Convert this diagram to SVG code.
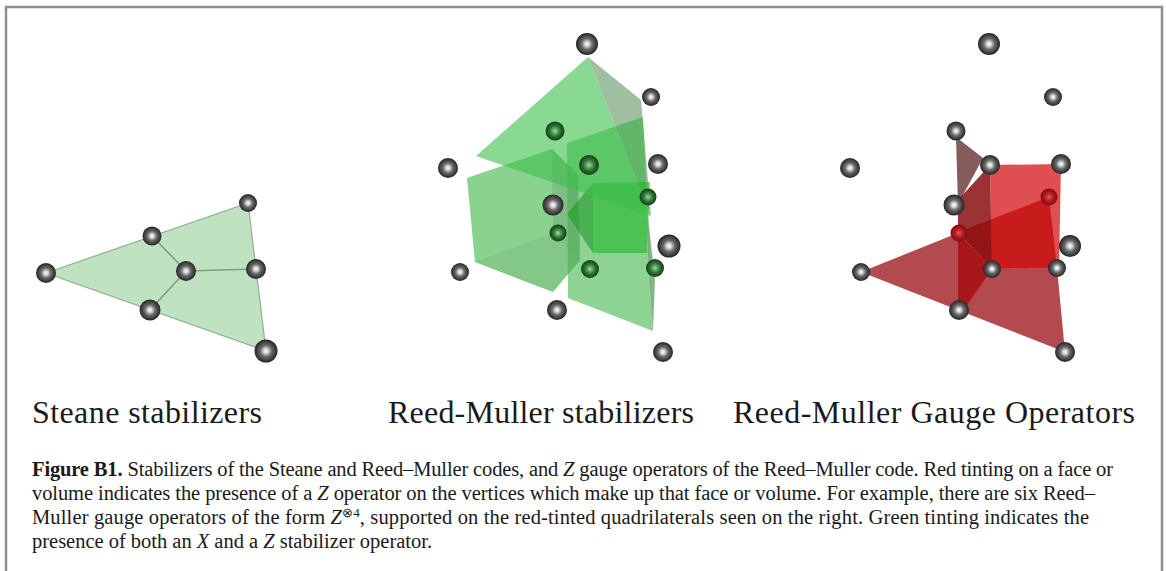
<svg xmlns="http://www.w3.org/2000/svg" width="1166" height="571" viewBox="0 0 1166 571">
<style>
.s{fill:url(#ball)}
.g{fill:url(#ballg)}
.r{fill:url(#ballr)}
.lab{font-family:"Liberation Serif","Times New Roman",serif;font-size:32px;fill:#1a1a1a}
.cap{font-family:"Liberation Serif","Times New Roman",serif;font-size:20.500px;fill:#1a1a1a}
.i{font-style:italic}
.edge{stroke:#7f9f80;stroke-width:1.6;fill:none}
</style>
<defs>
<radialGradient id="ball" cx="0.5" cy="0.5" r="0.5">
<stop offset="0" stop-color="#ffffff"/>
<stop offset="0.2" stop-color="#d8d8d8"/>
<stop offset="0.5" stop-color="#6a6a6a"/>
<stop offset="0.8" stop-color="#404040"/>
<stop offset="1" stop-color="#222222"/>
</radialGradient>
<radialGradient id="ballg" cx="0.5" cy="0.5" r="0.5">
<stop offset="0" stop-color="#a8dcac"/>
<stop offset="0.25" stop-color="#5fae66"/>
<stop offset="0.6" stop-color="#2a6c30"/>
<stop offset="1" stop-color="#143f18"/>
</radialGradient>
<radialGradient id="ballr" cx="0.5" cy="0.5" r="0.5">
<stop offset="0" stop-color="#e05a5a"/>
<stop offset="0.5" stop-color="#b81a1c"/>
<stop offset="1" stop-color="#7c0d0f"/>
</radialGradient>
</defs>
<rect width="1166" height="571" fill="#ffffff"/>
<path d="M6 571V7H1162V571" fill="none" stroke="#8f8f8f" stroke-width="2.500"/>

<g id="steane-face"><polygon points="46,273 248,203 266,351" fill="#bfe2c1" stroke="#8fb091" stroke-width="1.2"/></g>
<g id="connectors">
<path class="edge" d="M152,236L186,271L256,269M186,271L150,310"/>
</g>
<g id="steane-nodes">
<g id="a1"><circle class="s" cx="46" cy="273" r="10"/></g>
<g id="a2"><circle class="s" cx="152" cy="236" r="9.500"/></g>
<g id="a3"><circle class="s" cx="186" cy="271" r="10"/></g>
<g id="a4"><circle class="s" cx="256" cy="269" r="10"/></g>
<g id="a5"><circle class="s" cx="248" cy="203" r="9"/></g>
<g id="a6"><circle class="s" cx="150" cy="310" r="10.500"/></g>
<g id="a7"><circle class="s" cx="266" cy="351" r="11.500"/></g>
</g>

<g id="rm-faces">
<polygon points="588,57 641,100 651,216" fill="#7fa980" fill-opacity=".75"/>
<polygon points="567,143 643,117 653,331 568,298" fill="#2fae3a" fill-opacity=".55"/>
<polygon points="467,178 552,149 578,175 580,260 553,292 475,262" fill="#3cb544" fill-opacity=".6"/>
<polygon points="475,262 553,233 580,260 553,292" fill="#6aa06c" fill-opacity=".2"/>
<polygon points="552,149 578,175 580,260 553,233" fill="#6f9f72" fill-opacity=".4"/>
<polygon points="593,183 650,182 647,253 593,253" fill="#22b52a" fill-opacity=".6"/>
<polygon points="567,214 593,183 593,253" fill="#1f9a28" fill-opacity=".6"/>
<polygon points="648,217 655,280 653,331 648,253" fill="#6f9f72" fill-opacity=".8"/>
<polygon points="588,57 476,156 651,216" fill="#3cc04a" fill-opacity=".6"/>
</g>
<g id="rm-nodes">
<g id="b1"><circle class="s" cx="587" cy="44" r="11"/></g>
<g id="b2"><circle class="s" cx="651" cy="97" r="9"/></g>
<g id="b3"><circle class="g" cx="555" cy="131" r="9.500"/></g>
<g id="b4"><circle class="g" cx="589" cy="165" r="10"/></g>
<g id="b5"><circle class="s" cx="658" cy="164" r="10"/></g>
<g id="b6"><circle class="s" cx="448" cy="168" r="10"/></g>
<g id="b7"><circle class="g" cx="648" cy="197" r="8.500"/></g>
<g id="b8"><circle class="s" cx="553" cy="205" r="10.500"/></g>
<g id="b9"><circle class="g" cx="558" cy="233" r="8.500"/></g>
<g id="b10"><circle class="s" cx="669" cy="246" r="11.500"/></g>
<g id="b11"><circle class="s" cx="460" cy="272" r="9"/></g>
<g id="b12"><circle class="g" cx="590" cy="269" r="9"/></g>
<g id="b13"><circle class="g" cx="655" cy="268" r="9"/></g>
<g id="b14"><circle class="s" cx="557" cy="310" r="10"/></g>
<g id="b15"><circle class="s" cx="663" cy="352" r="10"/></g>
</g>

<g id="gauge-faces">
<polygon points="861,272 958,233 992,269 1057,268 1065,352" fill="#a62a30" fill-opacity=".85"/>
<polygon points="990,165 1061,164 1059,268 992,269" fill="#d8282c" fill-opacity=".82"/>
<polygon points="958,232 1049,197 1057,268 992,269" fill="#c41212" fill-opacity=".85"/>
<polygon points="956,137 983,158 963,195 958,205" fill="#6f3f40" fill-opacity=".85"/>
<polygon points="990,165 992,269 958,232 958,200" fill="#8a0f10" fill-opacity=".85"/>
<polygon points="958,232 992,269 967,305 958,305" fill="#a81215" fill-opacity=".9"/>
</g>
<g id="gauge-nodes">
<g id="c1"><circle class="s" cx="989" cy="44" r="11"/></g>
<g id="c2"><circle class="s" cx="1053" cy="97" r="9"/></g>
<g id="c3"><circle class="s" cx="956" cy="131" r="9.500"/></g>
<g id="c4"><circle class="s" cx="990" cy="165" r="10"/></g>
<g id="c5"><circle class="s" cx="1061" cy="164" r="10"/></g>
<g id="c6"><circle class="s" cx="850" cy="168" r="10"/></g>
<g id="c7"><circle class="r" cx="1049" cy="197" r="8.500"/></g>
<g id="c8"><circle class="s" cx="954" cy="205" r="10.500"/></g>
<g id="c9"><circle class="r" cx="959" cy="233" r="8.500"/></g>
<g id="c10"><circle class="s" cx="1070" cy="246" r="11"/></g>
<g id="c11"><circle class="s" cx="861" cy="272" r="9"/></g>
<g id="c12"><circle class="s" cx="992" cy="269" r="9"/></g>
<g id="c13"><circle class="s" cx="1057" cy="268" r="9"/></g>
<g id="c14"><circle class="s" cx="959" cy="310" r="10"/></g>
<g id="c15"><circle class="s" cx="1065" cy="352" r="10"/></g>
</g>

<g id="labels">
<text class="lab" x="32" y="423" textLength="230">Steane stabilizers</text>
<text class="lab" x="388" y="423" textLength="306">Reed-Muller stabilizers</text>
<text class="lab" x="733" y="423" textLength="402">Reed-Muller Gauge Operators</text>
</g>
<g id="caption">
<text class="cap" x="32" y="476" textLength="1081"><tspan font-weight="bold">Figure B1.</tspan> Stabilizers of the Steane and Reed–Muller codes, and <tspan class="i">Z</tspan> gauge operators of the Reed–Muller code. Red tinting on a face or</text>
<text class="cap" x="32" y="500" textLength="1063">volume indicates the presence of a <tspan class="i">Z</tspan> operator on the vertices which make up that face or volume. For example, there are six Reed–</text>
<text class="cap" x="32" y="524" textLength="1057">Muller gauge operators of the form <tspan class="i">Z</tspan><tspan font-size="13" dy="-7">⊗4</tspan><tspan dy="7">, supported on the red-tinted quadrilaterals seen on the right. Green tinting indicates the</tspan></text>
<text class="cap" x="32" y="548" textLength="400">presence of both an <tspan class="i">X</tspan> and a <tspan class="i">Z</tspan> stabilizer operator.</text>
</g>
</svg>
